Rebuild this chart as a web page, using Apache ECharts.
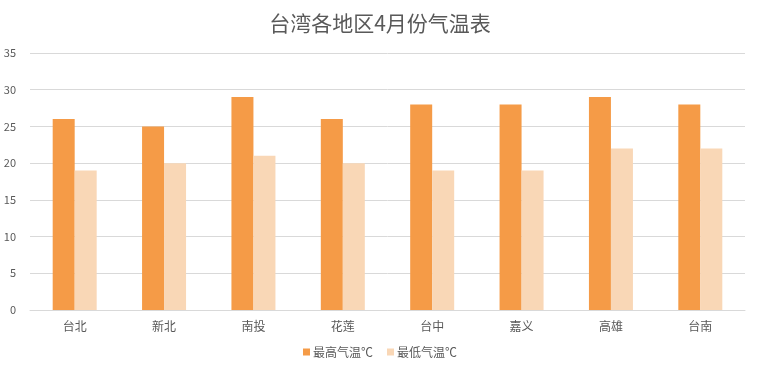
<!DOCTYPE html>
<html><head><meta charset="utf-8">
<script src="https://cdn.jsdelivr.net/npm/echarts@6/dist/echarts.min.js"></script>
<style>html,body{margin:0;padding:0;background:#fff}#c{width:760px;height:372px}</style>
</head><body><div id="c"></div>
<script>
const categories = ['台北','新北','南投','花莲','台中','嘉义','高雄','台南'];
const highTemps = [26,25,29,26,28,28,29,28];
const lowTemps = [19,20,21,20,19,19,22,22];
const seriesNames = ['最高气温℃','最低气温℃'];
const titleText = '台湾各地区4月份气温表';
const font = '"Microsoft YaHei","Noto Sans CJK SC",sans-serif';
const chart = echarts.init(document.getElementById('c'));
chart.setOption({
  animation:false,
  title:{text:titleText,left:'center',top:8,textStyle:{fontFamily:font,fontSize:21,fontWeight:'normal',color:'#595959'}},
  grid:{left:30,right:15,top:53,bottom:62,containLabel:false},
  legend:{bottom:9,left:'center',itemWidth:7,itemHeight:7,itemGap:14,icon:'rect',
    textStyle:{fontFamily:font,fontSize:12,color:'#595959',padding:[0,0,0,-2]},data:seriesNames},
  xAxis:{type:'category',data:categories,axisTick:{show:false},
    axisLine:{lineStyle:{color:'#d9d9d9'}},
    axisLabel:{fontFamily:font,fontSize:12,color:'#595959',margin:10}},
  yAxis:{type:'value',min:0,max:35,interval:5,axisLine:{show:false},axisTick:{show:false},
    splitLine:{lineStyle:{color:'#d9d9d9'}},
    axisLabel:{fontFamily:font,fontSize:11,color:'#595959',margin:14}},
  series:[
    {name:seriesNames[0],type:'bar',data:highTemps,barWidth:22,barGap:'0%',itemStyle:{color:'#F59B47'}},
    {name:seriesNames[1],type:'bar',data:lowTemps,barWidth:22,barGap:'0%',itemStyle:{color:'#F9D7B6'}}
  ]
});
</script></body></html>
